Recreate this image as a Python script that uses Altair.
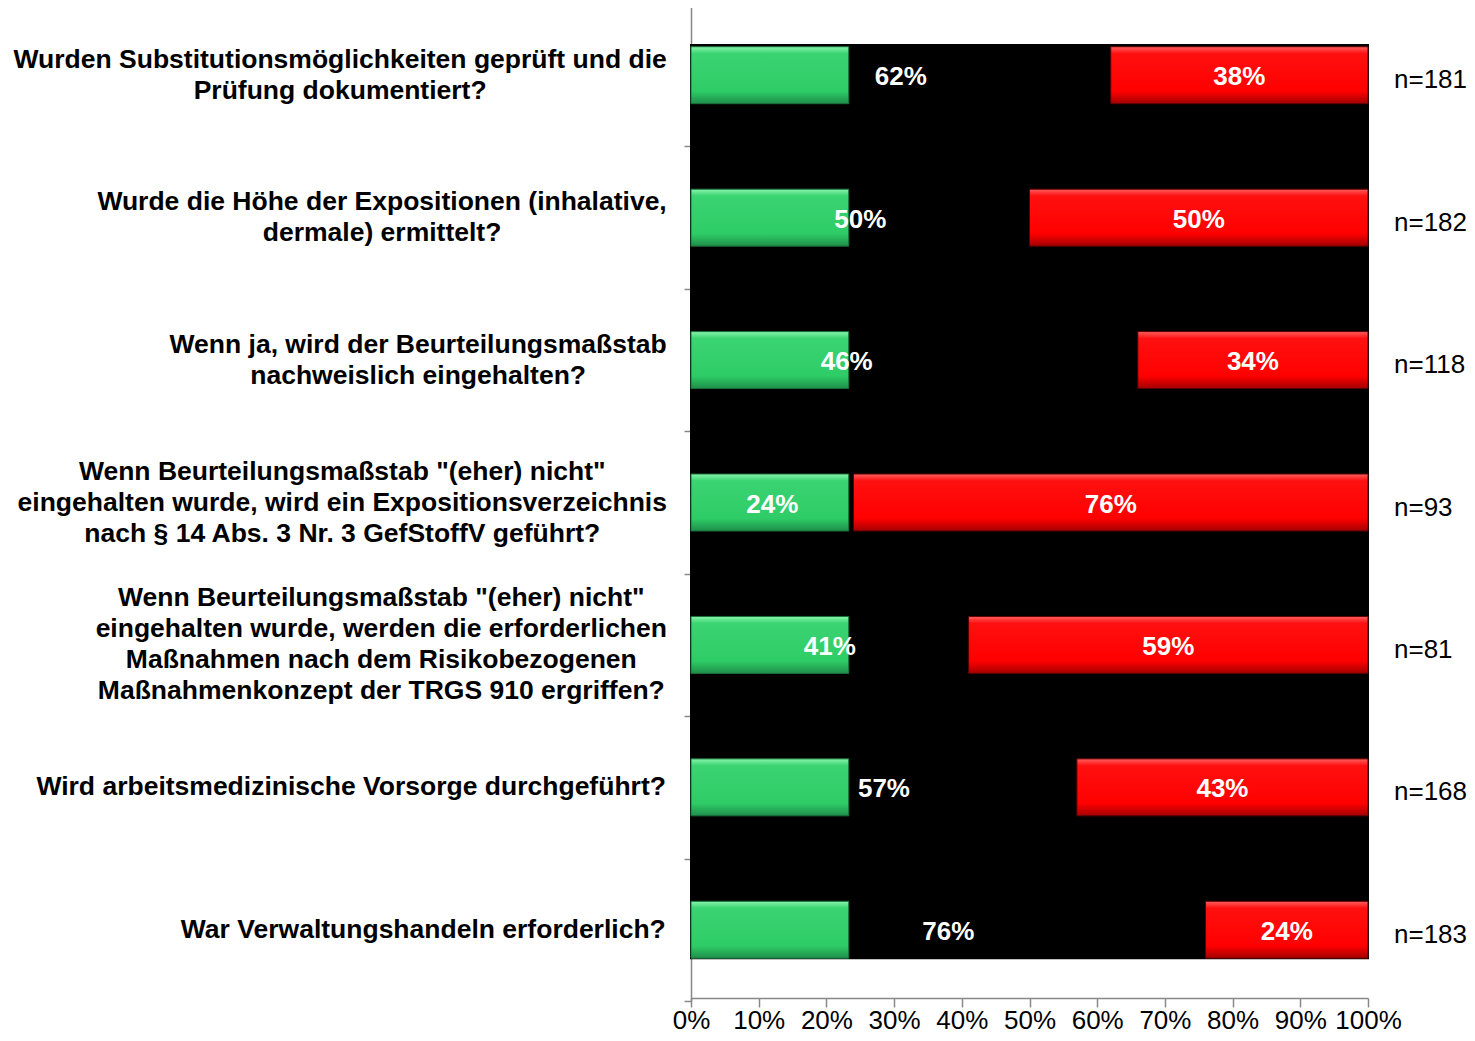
import altair as alt
import pandas as pd

# ---------------- data ----------------
categories = [
    "Wurden Substitutionsmöglichkeiten geprüft und die\nPrüfung dokumentiert?",
    "Wurde die Höhe der Expositionen (inhalative,\ndermale) ermittelt?",
    "Wenn ja, wird der Beurteilungsmaßstab\nnachweislich eingehalten?",
    'Wenn Beurteilungsmaßstab "(eher) nicht"\neingehalten wurde, wird ein Expositionsverzeichnis\nnach § 14 Abs. 3 Nr. 3 GefStoffV geführt?',
    'Wenn Beurteilungsmaßstab "(eher) nicht"\neingehalten wurde, werden die erforderlichen\nMaßnahmen nach dem Risikobezogenen\nMaßnahmenkonzept der TRGS 910 ergriffen?',
    "Wird arbeitsmedizinische Vorsorge durchgeführt?",
    "War Verwaltungshandeln erforderlich?",
]
ja = [62, 50, 46, 24, 41, 57, 76]
nein = [38, 50, 34, 76, 59, 43, 24]
n_vals = [181, 182, 118, 93, 81, 168, 183]
x_ticks = [0, 10, 20, 30, 40, 50, 60, 70, 80, 90, 100]

# ---------------- style ----------------
FONT = "Liberation Sans"
PLOT_W = 677
PLOT_H = 990
Y_RANGE = [-4, 993]
LABEL_FS = 26.5
LINE_H = 31
LABEL_GAP = 24
BAR_HALF = 0.2
GREEN_CLIP = 23.3

# Helvetica/Arial bold advance widths (1/1000 em) for label centering
HB = {" ": 278, '"': 474, "(": 333, ")": 333, ",": 278, ".": 278, "?": 611, "§": 556, "%": 889,
      "A": 722, "B": 722, "C": 722, "D": 722, "E": 667, "F": 611, "G": 778, "H": 722, "I": 278,
      "J": 556, "K": 722, "L": 611, "M": 833, "N": 722, "O": 778, "P": 667, "Q": 778, "R": 722,
      "S": 667, "T": 611, "U": 722, "V": 667, "W": 944, "X": 667, "Y": 667, "Z": 611,
      "a": 556, "b": 611, "c": 556, "d": 611, "e": 556, "f": 333, "g": 611, "h": 611, "i": 278,
      "j": 278, "k": 556, "l": 278, "m": 889, "n": 611, "o": 611, "p": 611, "q": 611, "r": 389,
      "s": 556, "t": 333, "u": 611, "v": 556, "w": 778, "x": 556, "y": 556, "z": 500,
      "ä": 556, "ö": 611, "ü": 611, "ß": 611}


def text_w(s, fs):
    return sum(HB.get(c, 556) for c in s) * fs / 1000.0


n_cat = len(categories)
unit_px = (Y_RANGE[1] - Y_RANGE[0]) / n_cat

df = pd.DataFrame({"cat": categories, "ja": ja, "nein": nein, "n": n_vals})
df["idx"] = range(n_cat)
df["y0"] = df["idx"] - BAR_HALF
df["y1"] = df["idx"] + BAR_HALF
df["zero"] = 0
df["g_end"] = df["ja"].clip(upper=GREEN_CLIP)
df["r_start"] = 100 - df["nein"]
df["r_end"] = 100
df["g_lab"] = df["ja"] / 2
df["r_lab"] = 100 - df["nein"] / 2
df["ja_txt"] = df["ja"].astype(str) + "%"
df["nein_txt"] = df["nein"].astype(str) + "%"
df["n_txt"] = "n=" + df["n"].astype(str)
df["n_x"] = 100
lines = df["cat"].str.split("\n")
wmax = lines.apply(lambda ls: max(text_w(l, LABEL_FS) for l in ls))
df["lx"] = (-LABEL_GAP - wmax / 2) * 100.0 / PLOT_W
df["ly"] = df["idx"] - (lines.apply(len) - 1) * LINE_H / 2.0 / unit_px

bg = pd.DataFrame({"x0": [0], "x1": [100],
                   "y0": [df["idx"].min() - BAR_HALF - 0.012],
                   "y1": [df["idx"].max() + BAR_HALF]})

xs = alt.Scale(domain=[0, 100], nice=False, zero=False)
ys = alt.Scale(domain=[-0.5, n_cat - 0.5], range=Y_RANGE, nice=False, zero=False)

x_axis = alt.Axis(values=x_ticks, labelExpr="datum.value + '%'", title=None, grid=False,
                  tickSize=9, labelPadding=0, labelFontSize=26, labelFont=FONT,
                  labelOverlap=False, labelFlush=False, labelColor="black",
                  domainColor="#888888", tickColor="#888888", domainWidth=1.5, tickWidth=1.5)
y_axis = alt.Axis(values=[i - 0.5 for i in range(n_cat + 1)], labels=False, title=None,
                  grid=False, tickSize=7, domainColor="#888888", tickColor="#888888",
                  domainWidth=1.5, tickWidth=1.5)

green_grad = alt.Gradient(
    gradient="linear", x1=0, x2=0, y1=0, y2=1,
    stops=[alt.GradientStop(color="#8af5ad", offset=0),
           alt.GradientStop(color="#3ad472", offset=0.12),
           alt.GradientStop(color="#2ecc67", offset=0.78),
           alt.GradientStop(color="#1f8f4a", offset=1)])
red_grad = alt.Gradient(
    gradient="linear", x1=0, x2=0, y1=0, y2=1,
    stops=[alt.GradientStop(color="#ff6060", offset=0),
           alt.GradientStop(color="#ff1010", offset=0.12),
           alt.GradientStop(color="#ff0000", offset=0.78),
           alt.GradientStop(color="#a30000", offset=1)])

black = alt.Chart(bg).mark_rect(color="black", stroke="black", strokeWidth=2).encode(
    x=alt.X("x0:Q", scale=xs, axis=x_axis),
    x2="x1:Q",
    y=alt.Y("y0:Q", scale=ys, axis=y_axis),
    y2="y1:Q",
)

green = alt.Chart(df).mark_rect(color=green_grad, stroke="#1a6e3a", strokeWidth=1).encode(
    x=alt.X("zero:Q", scale=xs),
    x2="g_end:Q",
    y=alt.Y("y0:Q", scale=ys),
    y2="y1:Q",
)

red = alt.Chart(df).mark_rect(color=red_grad, stroke="#5a0000", strokeWidth=1).encode(
    x=alt.X("r_start:Q", scale=xs),
    x2="r_end:Q",
    y=alt.Y("y0:Q", scale=ys),
    y2="y1:Q",
)

txt_style = dict(font=FONT, fontSize=26, fontWeight="bold", color="white",
                 align="center", baseline="middle", dy=2)
green_txt = alt.Chart(df).mark_text(**txt_style).encode(
    x=alt.X("g_lab:Q", scale=xs), y=alt.Y("idx:Q", scale=ys), text="ja_txt:N")
red_txt = alt.Chart(df).mark_text(**txt_style).encode(
    x=alt.X("r_lab:Q", scale=xs), y=alt.Y("idx:Q", scale=ys), text="nein_txt:N")

n_txt = alt.Chart(df).mark_text(font=FONT, fontSize=26, color="black", align="left",
                                baseline="middle", dx=26, dy=5).encode(
    x=alt.X("n_x:Q", scale=xs), y=alt.Y("idx:Q", scale=ys), text="n_txt:N")

cat_txt = alt.Chart(df).mark_text(font=FONT, fontSize=LABEL_FS, fontWeight="bold",
                                  color="black", align="center", baseline="middle",
                                  lineBreak="\n", lineHeight=LINE_H).encode(
    x=alt.X("lx:Q", scale=xs), y=alt.Y("ly:Q", scale=ys), text="cat:N")

chart = alt.layer(black, green, red, green_txt, red_txt, n_txt, cat_txt).properties(
    width=PLOT_W, height=PLOT_H,
    autosize=alt.AutoSizeParams(type="none"),
    padding={"left": 683, "top": 0, "right": 99, "bottom": 35},
).configure_view(stroke=None)

chart.save("out.html", embed_options={"renderer": "svg", "actions": False})
